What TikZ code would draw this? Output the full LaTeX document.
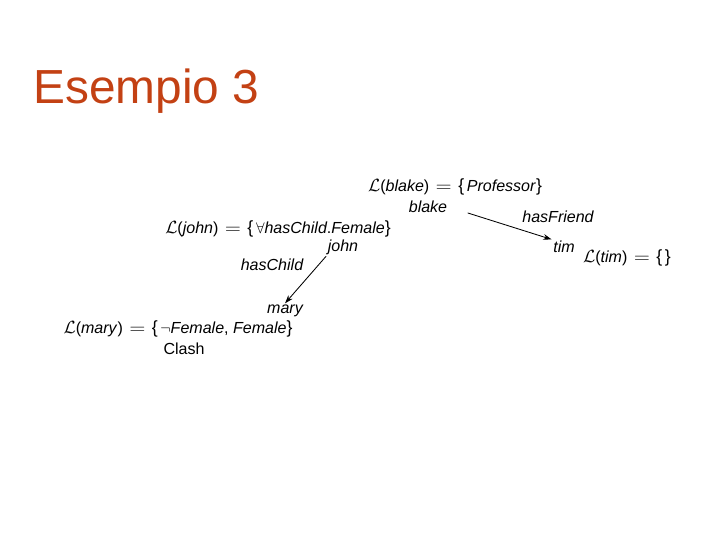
\documentclass[tikz,border=0pt]{standalone}
\usepackage{fontspec}
\setmainfont{Liberation Sans}
\usepackage{amsmath}
\usepackage{amssymb}
\usetikzlibrary{positioning, arrows.meta}
\definecolor{titlered}{RGB}{195,65,20}
\tikzset{
    titlestyle/.style={anchor=base west, inner sep=0pt, font=\fontsize{34}{40}\selectfont, text=titlered},
    lbl/.style={inner sep=1pt, font=\fontsize{11.4}{13}\selectfont\itshape},
    setlbl/.style={inner sep=1pt, font=\fontsize{11.4}{13}\selectfont},
    rolelbl/.style={inner sep=1pt, font=\fontsize{11.4}{13}\selectfont\itshape},
    arr/.style={-{Stealth[length=6pt, width=4pt]}, semithick, color=black}
}
\newcommand{\labelset}[2]{\scalebox{1.15}{$\mathcal{L}$}(\textit{#1})\hspace{0.4em}\scalebox{1.35}[1.1]{$=$}\hspace{0.4em}\scalebox{1.1}{\{}\,#2\scalebox{1.1}{\}}}

\begin{document}
\begin{tikzpicture}[x=0.025cm, y=-0.025cm]
    \useasboundingbox (0,0) rectangle (720,540);
    \node[titlestyle] (title) at (33,103) {Esempio 3};

    % blake and tim
    \node[setlbl] (Lblake) at (455,187) {\labelset{blake}{\textit{Professor}}};
    \node[lbl] (blake) at (428,207) {blake};
    \node[lbl] (tim) at (564,247) {tim};
    \node[setlbl] (Ltim) at (627,258) {\labelset{tim}{}};
    \node[rolelbl] (hasFriend) at (558,217) {hasFriend};
    \draw[arr, shorten <=14pt] (blake.east) -- (tim.north west);

    % john and mary
    \node[setlbl] (Ljohn) at (278,229) {\labelset{john}{$\forall$\textit{hasChild}.\textit{Female}}};
    \node[lbl] (john) at (343,247) {john};
    \node[rolelbl] (hasChild) at (272,265) {hasChild};
    \node[lbl] (mary) at (285,311) {mary};
    \node[setlbl] (Lmary) at (178,329) {\labelset{mary}{$\neg$\textit{Female}, \textit{Female}}};
    \node[setlbl] (clash) at (184,349) {Clash};
    \draw[arr] (john.south west) -- (mary.north);
\end{tikzpicture}
\end{document}
